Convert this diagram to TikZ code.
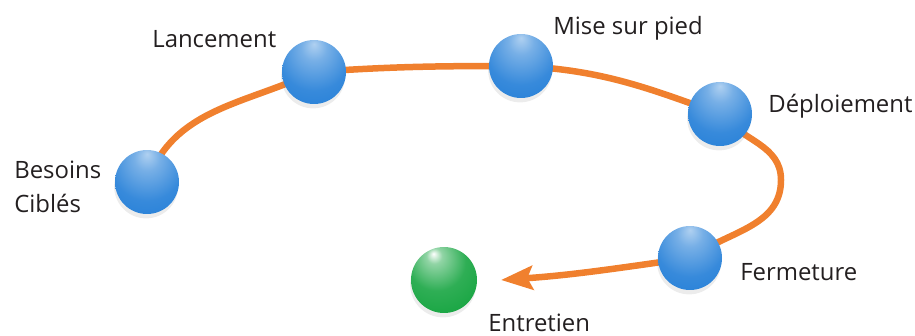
\documentclass[tikz,border=0pt]{standalone}
\usepackage{fontspec}
\setmainfont{Open Sans}
\usetikzlibrary{arrows.meta,shadows,backgrounds}
\definecolor{cycleorange}{RGB}{240,128,46}
\definecolor{ballblue}{RGB}{28,122,214}
\definecolor{ballgreen}{RGB}{10,160,55}
\definecolor{labelgray}{RGB}{35,31,32}
\pgfdeclareradialshading{bluesphere}{\pgfpoint{0bp}{22bp}}{%
  color(0bp)=(ballblue!35!white); color(10bp)=(ballblue!60!white);
  color(28bp)=(ballblue!88!white); color(50bp)=(ballblue);
  color(62bp)=(ballblue!88!black); color(72bp)=(ballblue!65!black)}
\pgfdeclareradialshading{greensphere}{\pgfpoint{-8bp}{20bp}}{%
  color(0bp)=(white); color(6bp)=(ballgreen!45!white);
  color(22bp)=(ballgreen!85!white); color(48bp)=(ballgreen);
  color(62bp)=(ballgreen!85!black); color(72bp)=(ballgreen!65!black)}
\tikzstyle{bluedot}=[circle,shading=bluesphere,inner sep=0pt,minimum size=1.28cm,
                     drop shadow={shadow xshift=-0.5pt,shadow yshift=-2.5pt,opacity=0.15}]
\tikzstyle{greendot}=[circle,shading=greensphere,inner sep=0pt,minimum size=1.32cm,
                      drop shadow={shadow xshift=-0.5pt,shadow yshift=-2.5pt,opacity=0.15}]
\tikzstyle{steplabel}=[inner sep=0pt,anchor=base west,text=labelgray,
                       font=\fontsize{13.6}{19}\selectfont]
\tikzstyle{cycleline}=[draw=cycleorange,line width=3.7pt]

\begin{document}
\begin{tikzpicture}[x=0.02cm,y=0.02cm]
    \useasboundingbox (0,0) rectangle (915,335);
    % the steps of the cycle
    \node (besoins)     at (147,153) [bluedot]{};
    \node (lancement)   at (314,263) [bluedot]{};
    \node (mise)        at (521,269) [bluedot]{};
    \node (deploiement) at (720,221) [bluedot]{};
    \node (fermeture)   at (690, 77) [bluedot]{};
    \node (entretien)   at (444, 55) [greendot]{};
    \coordinate (turn) at (781,155);
    \coordinate (tip)  at (501, 55);
    % labels
    \node (t-besoins)     at ( 14,123) [steplabel,align=left]{Besoins\\Ciblés};
    \node (t-lancement)   at (152,287) [steplabel]{Lancement};
    \node (t-mise)        at (553,300) [steplabel]{Mise sur pied};
    \node (t-deploiement) at (768,222) [steplabel]{Déploiement};
    \node (t-fermeture)   at (740, 55) [steplabel]{Fermeture};
    \node (t-entretien)   at (488,  4) [steplabel]{Entretien};
    \begin{pgfonlayer}{background}
      \draw[cycleline,-{Stealth[length=18pt,width=13.5pt,inset=3pt]}]
        (besoins.center) to[out=70,in=205] (lancement.center)
        to[out=4,in=180] (mise.center)
        to[out=-3,in=160] (deploiement.center)
        to[out=-50,in=90] (turn)
        to[out=-90,in=35] (fermeture.center)
        to[out=188,in=4] (tip);
    \end{pgfonlayer}
  \end{tikzpicture}
\end{document}
